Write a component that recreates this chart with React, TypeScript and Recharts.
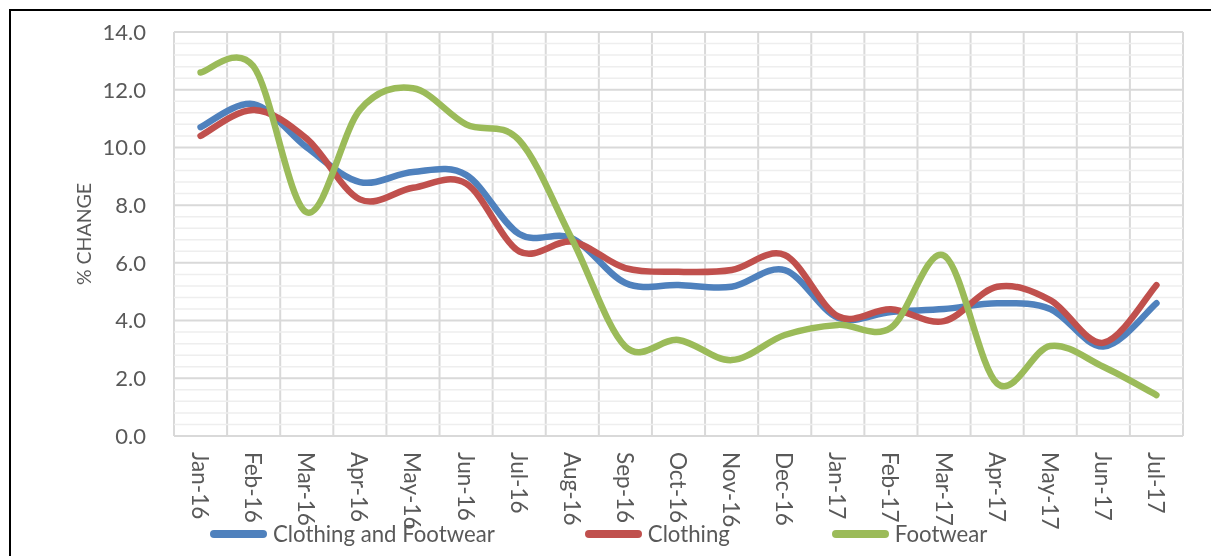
import React from "react";
import { LineChart, Line, XAxis, YAxis, CartesianGrid, ReferenceLine } from "recharts";

const months = [
  "Jan-16", "Feb-16", "Mar-16", "Apr-16", "May-16", "Jun-16", "Jul-16", "Aug-16", "Sep-16", "Oct-16",
  "Nov-16", "Dec-16", "Jan-17", "Feb-17", "Mar-17", "Apr-17", "May-17", "Jun-17", "Jul-17",
];
const clothingAndFootwear = [10.7, 11.5, 10.0, 8.8, 9.15, 9.05, 7.0, 6.85, 5.3, 5.23, 5.17, 5.75, 4.1, 4.3, 4.4, 4.6, 4.4, 3.1, 4.6];
const clothing = [10.4, 11.3, 10.3, 8.2, 8.6, 8.75, 6.4, 6.73, 5.82, 5.69, 5.75, 6.27, 4.15, 4.39, 3.98, 5.17, 4.71, 3.23, 5.23];
const footwear = [12.6, 12.8, 7.75, 11.3, 12.05, 10.8, 10.25, 6.8, 3.1, 3.33, 2.63, 3.5, 3.85, 3.75, 6.25, 1.82, 3.12, 2.4, 1.42];

const yTicks = [0, 2, 4, 6, 8, 10, 12, 14];
const yMinorTicks = Array.from({ length: 36 }, (_, i) => +(i * 0.4).toFixed(1)).filter(
  (v) => Math.abs(v / 2 - Math.round(v / 2)) > 1e-6
);
const xTicks = months.map((_, i) => i);
const xBoundaries = [...months.map((_, i) => i - 0.5), months.length - 0.5];

const series = [
  { key: "cf", name: "Clothing and Footwear", color: "#4F81BD", values: clothingAndFootwear },
  { key: "c", name: "Clothing", color: "#C0504D", values: clothing },
  { key: "f", name: "Footwear", color: "#9BBB59", values: footwear },
];

const data = months.map((m, i) => ({
  x: i,
  month: m,
  cf: clothingAndFootwear[i],
  c: clothing[i],
  f: footwear[i],
}));

// Excel-like smoothing (uniform Catmull-Rom as cubic Bezier)
const smoothCurve: any = (context: any) => {
  let pts: number[][] = [];
  return {
    areaStart() {},
    areaEnd() {},
    lineStart() {
      pts = [];
    },
    point(x: number, y: number) {
      pts.push([+x, +y]);
    },
    lineEnd() {
      const n = pts.length;
      if (!n) return;
      context.moveTo(pts[0][0], pts[0][1]);
      for (let i = 0; i < n - 1; i++) {
        const p0 = pts[i - 1] || pts[i];
        const p1 = pts[i];
        const p2 = pts[i + 1];
        const p3 = pts[i + 2] || p2;
        context.bezierCurveTo(
          p1[0] + (p2[0] - p0[0]) / 6,
          p1[1] + (p2[1] - p0[1]) / 6,
          p2[0] - (p3[0] - p1[0]) / 6,
          p2[1] - (p3[1] - p1[1]) / 6,
          p2[0],
          p2[1]
        );
      }
    },
  };
};

const FONT = "Lato, 'Open Sans', sans-serif";
const TEXT = "#595959";

const XTick = (props: any) => {
  const { x, y, payload } = props;
  const ty = y - 30;
  return (
    <text
      x={x}
      y={ty}
      transform={`rotate(90, ${x}, ${ty})`}
      textAnchor="start"
      dominantBaseline="central"
      fill={TEXT}
      fontSize={22.5}
      fontFamily={FONT}
    >
      {months[payload.value]}
    </text>
  );
};

const YLabel = (props: any) => {
  const vb = props.viewBox || { x: 0, y: 0, width: 0, height: 0 };
  const cx = vb.x + 83;
  const cy = vb.y + vb.height / 2;
  return (
    <text
      x={cx}
      y={cy}
      transform={`rotate(-90, ${cx}, ${cy})`}
      textAnchor="middle"
      dominantBaseline="central"
      fill={TEXT}
      fontSize={19.5}
      fontFamily={FONT}
    >
      % CHANGE
    </text>
  );
};

export default function App() {
  return (
    <>
      <div
        style={{
          position: "fixed",
          left: 9,
          top: 9,
          width: 1230,
          height: 580,
          border: "2px solid #000",
          boxSizing: "border-box",
        }}
      />
      <div style={{ position: "fixed", left: 0, top: 0, width: 1211, height: 556 }}>
        <LineChart
          width={1211}
          height={556}
          data={data}
          margin={{ top: 32, right: 28, bottom: 0, left: 0 }}
        >
          <XAxis
            xAxisId="main"
            dataKey="x"
            type="number"
            domain={[-0.5, months.length - 0.5]}
            ticks={xTicks}
            interval={0}
            height={120}
            axisLine={false}
            tickLine={false}
            tickSize={6}
            tickMargin={10}
            tick={<XTick />}
          />
          <XAxis
            xAxisId="grid"
            dataKey="x"
            type="number"
            domain={[-0.5, months.length - 0.5]}
            ticks={xBoundaries}
            interval={0}
            hide
          />
          <YAxis
            yAxisId="main"
            type="number"
            domain={[0, 14]}
            ticks={yTicks}
            interval={0}
            width={174}
            axisLine={false}
            tickLine={false}
            tickSize={6}
            tickMargin={22}
            tickFormatter={(v: number) => v.toFixed(1)}
            tick={{ fill: TEXT, fontSize: 22, fontFamily: FONT }}
            label={<YLabel />}
          />
          {yMinorTicks.map((v) => (
            <ReferenceLine
              key={"m" + v}
              xAxisId="main"
              yAxisId="main"
              y={v}
              stroke="#EEEEEE"
              strokeWidth={1.5}
            />
          ))}
          <CartesianGrid
            xAxisId="grid"
            yAxisId="main"
            stroke="#D9D9D9"
            strokeWidth={2}
          />
          {series.map((s) => (
            <Line
              key={s.key}
              xAxisId="main"
              yAxisId="main"
              dataKey={s.key}
              name={s.name}
              type={smoothCurve}
              stroke={s.color}
              strokeWidth={6.5}
              strokeLinecap="round"
              strokeLinejoin="round"
              dot={false}
              activeDot={false}
              isAnimationActive={false}
            />
          ))}
        </LineChart>
        <div
          style={{
            position: "absolute",
            left: 210,
            top: 520,
            display: "flex",
            alignItems: "center",
            fontFamily: FONT,
            fontSize: 22.2,
            color: TEXT,
            whiteSpace: "nowrap",
          }}
        >
          {series.map((s, i) => (
            <div
              key={s.key}
              style={{ display: "flex", alignItems: "center", marginRight: i === 0 ? 90 : 102 }}
            >
              <span
                style={{
                  display: "inline-block",
                  width: 57,
                  height: 8,
                  borderRadius: 4,
                  background: s.color,
                  marginRight: 6,
                }}
              />
              <span>{s.name}</span>
            </div>
          ))}
        </div>
      </div>
    </>
  );
}
